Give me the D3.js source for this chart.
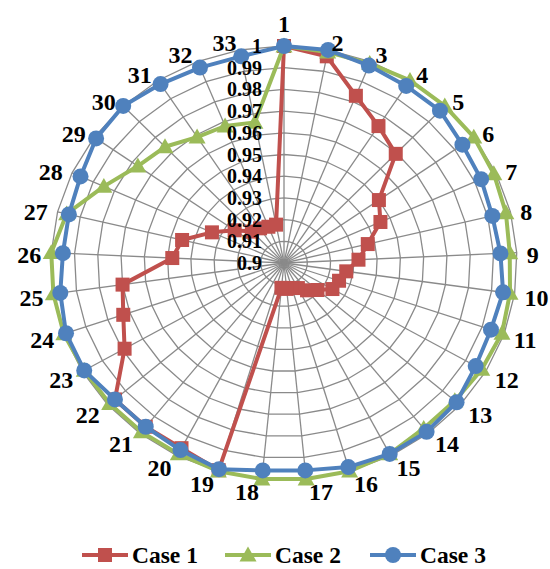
<!DOCTYPE html>
<html>
<head>
<meta charset="utf-8">
<script src="https://cdn.jsdelivr.net/npm/d3@7"></script>
<style>
  html, body { margin: 0; padding: 0; background: #fff; }
  svg { display: block; }
  text { font-family: "Liberation Serif", "Times New Roman", serif; font-weight: bold; fill: #000; }
</style>
</head>
<body>
<svg id="chart" width="550" height="569"></svg>
<script>
// ---------------- data ----------------
const categories = ["1","2","3","4","5","6","7","8","9","10","11","12","13","14","15","16","17",
  "18","19","20","21","22","23","24","25","26","27","28","29","30","31","32","33"];

const case1 = [1.000, 0.997, 0.983, 0.975, 0.9695, 0.950, 0.9455, 0.937, 0.932, 0.927, 0.925,
  0.924, 0.919, 0.916, 0.913, 0.912, 0.912, 0.9115, 0.9995, 0.996, 0.996, 0.996, 0.979,
  0.973, 0.970, 0.948, 0.945, 0.934, 0.926, 0.920, 0.919, 0.918, 0.918];

const case2 = [1.000, 0.999, 0.999, 1.000, 1.000, 1.000, 0.999, 0.998, 0.997, 0.998, 0.999,
  0.998, 0.997, 0.997, 0.999, 1.000, 1.000, 1.000, 1.000, 0.999, 0.999, 0.999, 0.999,
  1.000, 1.000, 1.000, 0.996, 0.985, 0.977, 0.974, 0.969, 0.968, 0.966];

const case3 = [1.000, 1.000, 0.998, 0.997, 0.997, 0.994, 0.993, 0.992, 0.993, 0.995, 0.994,
  0.995, 0.998, 0.999, 0.999, 0.998, 0.996, 0.996, 0.999, 0.997, 0.996, 0.996, 0.999,
  0.999, 0.997, 0.995, 0.995, 0.996, 0.999, 1.000, 0.998, 0.997, 0.997];

const seriesNames = ["Case 1", "Case 2", "Case 3"];
const tickValues = [0.90, 0.91, 0.92, 0.93, 0.94, 0.95, 0.96, 0.97, 0.98, 0.99, 1.00];
const tickLabels = ["0.9","0.91","0.92","0.93","0.94","0.95","0.96","0.97","0.98","0.99","1"];

// ---------------- layout ----------------
const cx = 284, cy = 263, rx = 233, ry = 217;
const colors = ["#C0504D", "#9BBB59", "#4F81BD"];
const shapes = ["square", "triangle", "circle"];
const gridColor = "#8a8a8a";

const svg = d3.select("#chart");
const rScale = d3.scaleLinear().domain([0.90, 1.00]).range([0, 1]);
const aScale = d3.scaleLinear().domain([0, categories.length]).range([0, 2 * Math.PI]);

function pt(i, v) {
  const a = aScale(i), f = rScale(v);
  return [cx + rx * f * Math.sin(a), cy - ry * f * Math.cos(a)];
}

// ---------------- grid ----------------
const grid = svg.append("g");
const ringLine = d3.line().curve(d3.curveLinearClosed);
tickValues.filter(t => t > 0.9).forEach(t => {
  grid.append("path")
    .attr("d", ringLine(categories.map((c, i) => pt(i, t))))
    .attr("fill", "none").attr("stroke", gridColor).attr("stroke-width", 1.3);
});
categories.forEach((c, i) => {
  const p = pt(i, 1.0);
  grid.append("line")
    .attr("x1", cx).attr("y1", cy).attr("x2", p[0]).attr("y2", p[1])
    .attr("stroke", gridColor).attr("stroke-width", 1.3);
});

// ---------------- series ----------------
const allSeries = [case1, case2, case3];
const seriesLine = d3.line().curve(d3.curveLinearClosed);

function drawMarker(g, shape, x, y, color) {
  if (shape === "square") {
    g.append("rect").attr("x", x - 7).attr("y", y - 7).attr("width", 14).attr("height", 14)
      .attr("fill", color);
  } else if (shape === "triangle") {
    const s = 8.5;
    g.append("path")
      .attr("d", `M${x},${y - s} L${x + s},${y + s * 0.75} L${x - s},${y + s * 0.75} Z`)
      .attr("fill", color);
  } else {
    g.append("circle").attr("cx", x).attr("cy", y).attr("r", 8).attr("fill", color);
  }
}

allSeries.forEach((vals, s) => {
  const g = svg.append("g");
  const pts = vals.map((v, i) => pt(i, v));
  g.append("path").attr("d", seriesLine(pts))
    .attr("fill", "none").attr("stroke", colors[s]).attr("stroke-width", 4)
    .attr("stroke-linejoin", "round");
  pts.forEach(p => drawMarker(g, shapes[s], p[0], p[1], colors[s]));
});

// ---------------- radial tick labels ----------------
const tl = svg.append("g");
tickValues.forEach((t, k) => {
  tl.append("text")
    .attr("x", cx - 22)
    .attr("y", cy - ry * rScale(t))
    .attr("text-anchor", "end")
    .attr("dominant-baseline", "central")
    .attr("font-size", 20)
    .text(tickLabels[k]);
});

// ---------------- category labels ----------------
const cl = svg.append("g");
categories.forEach((c, i) => {
  const a = aScale(i), s = Math.sin(a), co = Math.cos(a);
  const d = 8;
  const px = cx + (rx + d) * s, py = cy - (ry + d) * co;
  let anchor = "middle", x = px, y;
  if (Math.abs(s) < 0.05) {
    y = py - co * 14;
  } else {
    anchor = s > 0 ? "start" : "end";
    x = px + (s > 0 ? 2 : -2);
    y = py + 3 - 2 * co;
  }
  cl.append("text")
    .attr("x", x).attr("y", y)
    .attr("text-anchor", anchor)
    .attr("dominant-baseline", "central")
    .attr("font-size", 24)
    .text(c);
});

// ---------------- legend ----------------
const legend = svg.append("g");
const legendX = [82, 225, 370];
const legendY = 555;
seriesNames.forEach((name, s) => {
  const x0 = legendX[s];
  legend.append("line")
    .attr("x1", x0).attr("y1", legendY).attr("x2", x0 + 46).attr("y2", legendY)
    .attr("stroke", colors[s]).attr("stroke-width", 4);
  drawMarker(legend, shapes[s], x0 + 23, legendY, colors[s]);
  legend.append("text")
    .attr("x", x0 + 50).attr("y", 563)
    .attr("font-size", 23.5)
    .text(name);
});
</script>
</body>
</html>
